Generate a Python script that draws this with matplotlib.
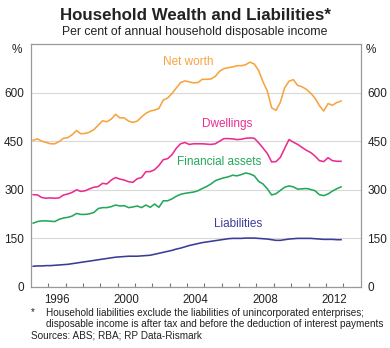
import numpy as np
import matplotlib
matplotlib.use("Agg")
import matplotlib.pyplot as plt

plt.rcParams['font.family'] = ['Liberation Sans', 'DejaVu Sans']

# quarterly dates 1995 Q1 .. 2012 Q4
start_year = 1995.125
n_q = 72

net_worth = [453, 457, 450, 446, 442, 442, 449, 459, 461, 470, 483, 473,
             474, 478, 486, 499, 513, 510, 518, 533, 522, 522, 512, 508,
             512, 525, 536, 543, 546, 551, 577, 583, 597, 614, 631, 636,
             633, 630, 631, 641, 641, 642, 650, 666, 674, 677, 679, 683,
             683, 686, 694, 688, 668, 633, 605, 553, 545, 570, 615, 635,
             640, 622, 618, 610, 598, 583, 560, 543, 566, 561, 569, 574]

dwellings = [285, 284, 276, 274, 275, 274, 275, 284, 287, 292, 300, 295,
             297, 303, 308, 310, 320, 318, 330, 338, 333, 330, 325, 323,
             334, 338, 356, 356, 362, 375, 393, 396, 408, 428, 442, 446,
             440, 442, 442, 442, 441, 440, 442, 450, 458, 458, 457, 455,
             456, 459, 460, 459, 445, 429, 412, 386, 387, 400, 428, 455,
             447, 440, 431, 422, 415, 404, 390, 387, 399, 390, 388, 388]

financial = [197, 202, 204, 204, 203, 202, 209, 213, 215, 219, 227, 224,
             224, 226, 230, 242, 245, 245, 248, 253, 250, 251, 245, 247,
             250, 245, 253, 246, 256, 246, 266, 266, 272, 280, 286, 289,
             291, 293, 297, 304, 310, 318, 328, 333, 337, 340, 345, 343,
             347, 352, 349, 343, 326, 318, 303, 284, 288, 298, 308, 312,
             309, 302, 303, 304, 301, 297, 285, 282, 287, 296, 303, 309]

liabilities = [64, 65, 65, 66, 66, 67, 68, 69, 70, 72, 74, 76,
               78, 80, 82, 84, 86, 88, 90, 92, 93, 94, 95, 95,
               95, 96, 97, 98, 101, 104, 107, 110, 113, 117, 120, 124,
               128, 131, 134, 137, 139, 141, 143, 145, 147, 149, 150, 150,
               150, 151, 151, 151, 150, 149, 148, 146, 144, 144, 146, 148,
               149, 150, 150, 150, 150, 149, 148, 147, 147, 147, 146, 146]

series_names = ["Net worth", "Dwellings", "Financial assets", "Liabilities"]
series_colors = ["#F8A340", "#EC2C8F", "#23A85A", "#3B3C97"]
label_pos = [(2004.08, 693), (2006.33, 502), (2005.83, 386), (2006.95, 195)]

year_labels = [1996, 2000, 2004, 2008, 2012]
y_ticks = [0, 150, 300, 450, 600]

dates = start_year + 0.25 * np.arange(n_q)

fig = plt.figure(figsize=(3.90, 3.48), dpi=100)
ax = fig.add_axes([0.0795, 0.1753, 0.845, 0.6983])

for vals, c in zip([net_worth, dwellings, financial, liabilities], series_colors):
    ax.plot(dates, vals, color=c, lw=1.15, solid_joinstyle='round')

for name, c, (lx, ly) in zip(series_names, series_colors, label_pos):
    ax.text(lx, ly, name, color=c, fontsize=8.5, ha='center', va='center')

ax.set_xlim(1995, 2014)
ax.set_ylim(0, 750)
ax.set_yticks(y_ticks)
ax.yaxis.grid(True, color='#d9d9d9', lw=0.8)
ax.set_axisbelow(True)
ax.tick_params(axis='y', length=0, labelsize=8.5, colors='#222222', pad=5,
               labelright=True, right=False)
ax.set_yticklabels([str(v) for v in y_ticks])

ax.set_xticks(np.arange(1996, 2014))
ax.set_xticklabels([])
ax.tick_params(axis='x', direction='in', length=3, color='#777777', width=0.8)
for yr in year_labels:
    ax.text(yr + 0.5, -0.03, str(yr), transform=ax.get_xaxis_transform(),
            ha='center', va='top', fontsize=8.3, color='#222222')

for s in ax.spines.values():
    s.set_color('#999999')
    s.set_linewidth(0.9)

fig.text(17 / 390, 1 - 50 / 348, '%', ha='center', va='center', fontsize=8.5, color='#222222')
fig.text(371 / 390, 1 - 50 / 348, '%', ha='center', va='center', fontsize=8.5, color='#222222')

fig.text(0.5, 1 - 15 / 348, 'Household Wealth and Liabilities*', ha='center', va='center',
         fontsize=12.2, fontweight='bold', color='#222222')
fig.text(0.5, 1 - 31.5 / 348, 'Per cent of annual household disposable income', ha='center',
         va='center', fontsize=8.85, color='#222222')

fs_note = 7.2
fig.text(31 / 390, 1 - 312.5 / 348, '*', ha='left', va='center', fontsize=fs_note, color='#222222')
fig.text(46.5 / 390, 1 - 312.5 / 348,
         'Household liabilities exclude the liabilities of unincorporated enterprises;',
         ha='left', va='center', fontsize=fs_note, color='#222222')
fig.text(46.5 / 390, 1 - 324 / 348,
         'disposable income is after tax and before the deduction of interest payments',
         ha='left', va='center', fontsize=fs_note, color='#222222')
fig.text(31 / 390, 1 - 335.5 / 348, 'Sources: ABS; RBA; RP Data-Rismark',
         ha='left', va='center', fontsize=fs_note, color='#222222')

fig.savefig('out.png', dpi=100)
